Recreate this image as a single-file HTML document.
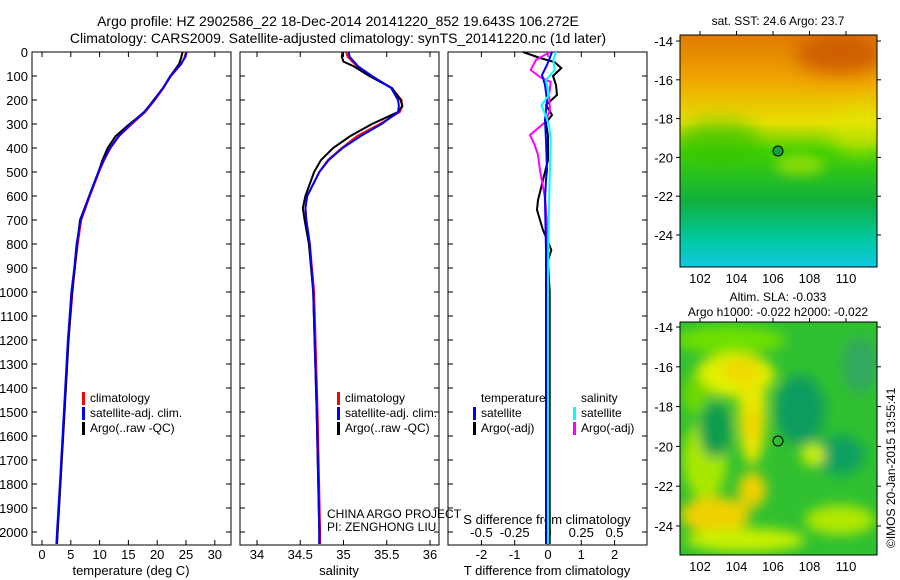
<!DOCTYPE html>
<html><head><meta charset="utf-8"><style>
html,body{margin:0;padding:0;background:#fff}
svg{display:block;font-family:"Liberation Sans",sans-serif}
</style></head><body>
<svg id="chart" width="900" height="580" viewBox="0 0 900 580">
<defs>
<linearGradient id="sstg" x1="0" y1="0" x2="0" y2="1">
<stop offset="0" stop-color="#e07a00"/><stop offset="0.2" stop-color="#f0a800"/><stop offset="0.38" stop-color="#e6e000"/><stop offset="0.5" stop-color="#40d000"/><stop offset="0.72" stop-color="#10b040"/><stop offset="0.88" stop-color="#00c8a0"/><stop offset="1" stop-color="#10c8e0"/>
</linearGradient>
<filter id="blur" x="-50%" y="-50%" width="200%" height="200%"><feGaussianBlur stdDeviation="9"/></filter>
<filter id="blur2" x="-50%" y="-50%" width="200%" height="200%"><feGaussianBlur stdDeviation="6"/></filter>
<clipPath id="cm1"><rect x="680" y="35" width="197" height="232"/></clipPath>
<clipPath id="cm2"><rect x="680" y="322" width="197" height="233"/></clipPath>
</defs>
<text x="338" y="26" font-size="14" text-anchor="middle">Argo profile: HZ 2902586_22 18-Dec-2014 20141220_852 19.643S 106.272E</text>
<text x="338" y="43" font-size="14" text-anchor="middle">Climatology: CARS2009. Satellite-adjusted climatology: synTS_20141220.nc (1d later)</text>
<g id="axes"></g>
<g id="maps">
<g clip-path="url(#cm1)">
<rect x="680" y="35" width="197" height="232" fill="url(#sstg)"/>
<ellipse cx="840" cy="55" rx="45" ry="20" fill="#c04000" opacity="0.6" filter="url(#blur)"/>
<ellipse cx="720" cy="140" rx="40" ry="20" fill="#30c000" opacity="0.6" filter="url(#blur)"/>
<ellipse cx="860" cy="130" rx="30" ry="25" fill="#e0e800" opacity="0.6" filter="url(#blur)"/>
<ellipse cx="800" cy="165" rx="25" ry="10" fill="#c8e800" opacity="0.6" filter="url(#blur2)"/>
</g>
<rect x="680" y="35" width="197" height="232" fill="none" stroke="#000"/>
<circle cx="778" cy="151" r="5" fill="#10a040" stroke="#000"/>
<text x="778" y="25" font-size="12" text-anchor="middle">sat. SST: 24.6  Argo: 23.7</text>
<g clip-path="url(#cm2)">
<rect x="680" y="322" width="197" height="233" fill="#30c030"/>
<g filter="url(#blur2)">
<ellipse cx="730" cy="340" rx="55" ry="14" fill="#70e000"/>
<ellipse cx="735" cy="375" rx="40" ry="22" fill="#e0f000"/>
<ellipse cx="752" cy="410" rx="14" ry="55" fill="#e8e800"/>
<ellipse cx="740" cy="370" rx="18" ry="12" fill="#f0d800"/>
<ellipse cx="752" cy="425" rx="8" ry="15" fill="#f0d000"/>
<ellipse cx="705" cy="460" rx="22" ry="40" fill="#a8e800"/>
<ellipse cx="715" cy="515" rx="35" ry="18" fill="#f0d000"/>
<ellipse cx="752" cy="490" rx="14" ry="18" fill="#f0d000"/>
<ellipse cx="745" cy="540" rx="60" ry="12" fill="#c8f000"/>
<ellipse cx="715" cy="430" rx="16" ry="28" fill="#109c50"/>
<ellipse cx="800" cy="410" rx="25" ry="35" fill="#109c60"/>
<ellipse cx="840" cy="455" rx="25" ry="20" fill="#10a060"/>
<ellipse cx="813" cy="455" rx="12" ry="11" fill="#d0f000"/>
<ellipse cx="840" cy="520" rx="35" ry="15" fill="#b0e800"/>
<ellipse cx="860" cy="365" rx="18" ry="28" fill="#30a860"/>
<ellipse cx="695" cy="395" rx="12" ry="20" fill="#70d800"/>
</g>
</g>
<rect x="680" y="322" width="197" height="233" fill="none" stroke="#000"/>
<circle cx="778" cy="441" r="5" fill="none" stroke="#000"/>
<text x="778" y="301" font-size="12" text-anchor="middle">Altim. SLA: -0.033</text>
<text x="778" y="316" font-size="12" text-anchor="middle">Argo h1000: -0.022 h2000: -0.022</text>
<text transform="translate(895,548) rotate(-90)" font-size="12">©IMOS 20-Jan-2015 13:55:41</text>
</g>
<g id="plots"></g>
</svg>
<script>
const NS="http://www.w3.org/2000/svg";
const depthTicks=[0,100,200,300,400,500,600,700,800,900,1000,1100,1200,1300,1400,1500,1600,1700,1800,1900,2000];
const tempTicks=[0,5,10,15,20,25,30];
const salTicks=[34,34.5,35,35.5,36];
const salTickLabels=["34","34.5","35","35.5","36"];
const tdiffTicks=[-2,-1,0,1,2];
const sdiffTicks=[-0.5,-0.25,0,0.25,0.5];
const sdiffTickLabels=["-0.5","-0.25","0","0.25","0.5"];
const lonTicks=[102,104,106,108,110];
const latTicks=[-14,-16,-18,-20,-22,-24];

const tDepth=[0,20,50,100,150,200,250,300,350,400,450,500,600,700,800,900,1000,1200,1500,1800,2000,2050];
const tArgo=[24.4,24.2,23.8,22.3,21.0,19.4,17.8,15.2,12.8,11.4,10.5,9.8,8.2,6.6,6.1,5.7,5.2,4.6,3.9,3.2,2.7,2.6];
const tClim=[25.0,24.8,24.2,22.4,21.1,19.6,17.9,15.6,13.4,11.9,10.8,9.9,8.3,6.8,6.2,5.7,5.3,4.6,3.9,3.2,2.7,2.6];
const tSat=[25.1,24.9,24.1,22.3,21.0,19.5,17.7,15.4,13.3,11.8,10.7,9.8,8.2,6.7,6.0,5.6,5.1,4.5,3.8,3.1,2.6,2.5];
const sDepth=[0,20,40,60,100,150,200,225,250,300,350,400,450,500,600,650,700,800,1000,1500,2000,2050];
const sArgo=[34.99,34.98,35.0,35.12,35.3,35.56,35.66,35.68,35.63,35.33,35.08,34.88,34.74,34.66,34.56,34.53,34.55,34.6,34.65,34.69,34.72,34.72];
const sClim=[35.03,35.05,35.1,35.16,35.32,35.56,35.67,35.68,35.65,35.42,35.16,34.98,34.82,34.72,34.58,34.56,34.57,34.61,34.66,34.7,34.73,34.73];
const sSat=[35.06,35.07,35.12,35.17,35.33,35.55,35.63,35.64,35.63,35.44,35.2,34.99,34.83,34.72,34.58,34.56,34.57,34.61,34.65,34.69,34.72,34.72];
const dtArgoDepth=[0,25,42,67,100,137,179,221,262,296,350,450,617,658,742,790,825,870,1000,2050];
const dtArgo=[-0.75,-0.24,0.2,0.4,0.15,0.24,0.27,-0.06,0.12,-0.06,0,0,-0.3,-0.33,-0.15,0,0.1,0,0.05,0.05];
const dtSatDepth=[0,54,96,137,200,283,367,492,533,617,825,2050];
const dtSat=[0.12,-0.03,-0.18,-0.09,-0.03,-0.09,-0.06,-0.03,-0.06,-0.09,-0.06,-0.06];
const dsArgoDepth=[0,33,75,104,125,179,242,292,346,387,429,492,554,617,700,1000,2050];
const dsArgo=[0.015,-0.09,-0.13,-0.06,0.02,0.008,0.015,-0.02,-0.135,-0.1,-0.075,-0.06,-0.04,-0.02,-0.01,-0.005,0];
const dsSatDepth=[0,33,75,117,179,221,262,304,367,617,950,2050];
const dsSat=[0.06,0.04,0.05,-0.015,0.008,-0.05,-0.02,0.008,0.02,0.008,0,0];

const Y=d=>52+d*0.24;
const xT=v=>42+v*5.76;
const xS=v=>257+(v-34)*86.5;
const xDT=v=>548+v*33.3;
const xDS=v=>548+v*133;
const lonX=v=>700+(v-102)*18.25;
const latY1=v=>41+(-14-v)*19.4;
const latY2=v=>327+(-14-v)*19.9;

const axes=document.getElementById('axes');
const plots=document.getElementById('plots');
function mk(tag,attrs,parent){const e=document.createElementNS(NS,tag);for(const k in attrs)e.setAttribute(k,attrs[k]);parent.appendChild(e);return e;}
function txt(x,y,s,size,anchor,parent){const e=mk('text',{x:x,y:y,'font-size':size,'text-anchor':anchor},parent);e.textContent=s;return e;}

const panels=[{x0:32,name:'temperature-panel'},{x0:240,name:'salinity-panel'},{x0:448,name:'difference-panel'}];
panels.forEach(p=>{
  const r=mk('rect',{x:p.x0,y:52,width:199,height:493,fill:'none',stroke:'#000'},axes);
  
  
  depthTicks.forEach(d=>{
    mk('line',{x1:p.x0,x2:p.x0+5,y1:Y(d),y2:Y(d),stroke:'#000'},axes);
    mk('line',{x1:p.x0+199,x2:p.x0+194,y1:Y(d),y2:Y(d),stroke:'#000'},axes);
  });
});
depthTicks.forEach(d=>{
  const t=txt(28,Y(d)+5,String(d),13,'end',axes);
  
  
});
function xticks(ticks,labels,fx,ly){
  ticks.forEach((v,i)=>{
    mk('line',{x1:fx(v),x2:fx(v),y1:545,y2:540,stroke:'#000'},axes);
    mk('line',{x1:fx(v),x2:fx(v),y1:52,y2:57,stroke:'#000'},axes);
    const t=txt(fx(v),ly,labels[i],13,'middle',axes);
    
    
  });
}
xticks(tempTicks,tempTicks.map(String),xT,559);
xticks(salTicks,salTickLabels,xS,559);
xticks(tdiffTicks,tdiffTicks.map(String),xDT,559);
sdiffTicks.forEach((v,i)=>{
  const t=txt(xDS(v),537,sdiffTickLabels[i],13,'middle',axes);
  
  
});
let t;
t=txt(131,575,'temperature (deg C)',13,'middle',axes);


t=txt(339,575,'salinity',13,'middle',axes);


t=txt(547,575,'T difference from climatology',13,'middle',axes);


t=txt(547,524,'S difference from climatology',13,'middle',axes);


t=txt(327,518,'CHINA ARGO PROJECT',12,'start',axes);


t=txt(327,531,'PI: ZENGHONG LIU',12,'start',axes);



function line(ds,vs,fx,color,w,name){
  const pts=ds.map((d,i)=>fx(vs[i]).toFixed(1)+','+Y(d).toFixed(1)).join(' ');
  const e=mk('polyline',{points:pts,fill:'none',stroke:color,'stroke-width':w},plots);
  
  
}
line(tDepth,tClim,xT,'#f00',2,'temp-climatology-line');
line(tDepth,tArgo,xT,'#000',2,'temp-argo-line');
line(tDepth,tSat,xT,'#00f',2,'temp-satellite-line');
line(sDepth,sClim,xS,'#f00',2,'sal-climatology-line');
line(sDepth,sArgo,xS,'#000',2,'sal-argo-line');
line(sDepth,sSat,xS,'#00f',2,'sal-satellite-line');
line(dtArgoDepth,dtArgo,xDT,'#000',2,'tdiff-argo-line');
line(dsArgoDepth,dsArgo,xDS,'#f0f',2,'sdiff-argo-line');
line(dtSatDepth,dtSat,xDT,'#00f',2,'tdiff-satellite-line');
line(dsSatDepth,dsSat,xDS,'#0ff',2,'sdiff-satellite-line');

function legend(x,y,items,name){
  items.forEach((it,i)=>{
    if(it[1]) mk('rect',{x:x,y:y+i*15-10,width:3,height:13,fill:it[1]},axes);
    const e=txt(x+8,y+i*15,it[0],12,'start',axes);
    
    
  });
}
legend(82,402,[['climatology','#f00'],['satellite-adj. clim.','#00f'],['Argo(..raw -QC)','#000']],'temp-legend');
legend(337,402,[['climatology','#f00'],['satellite-adj. clim.','#00f'],['Argo(..raw -QC)','#000']],'sal-legend');
legend(473,402,[['temperature',null],['satellite','#00f'],['Argo(-adj)','#000']],'tdiff-legend');
legend(573,402,[['salinity',null],['satellite','#0ff'],['Argo(-adj)','#f0f']],'sdiff-legend');

function mapAxes(top,bot,fy){
  lonTicks.forEach(v=>{
    mk('line',{x1:lonX(v),x2:lonX(v),y1:bot,y2:bot-4,stroke:'#000'},axes);
    mk('line',{x1:lonX(v),x2:lonX(v),y1:top,y2:top-4,stroke:'#000'},axes);
    const e=txt(lonX(v),bot+16,String(v),13,'middle',axes);
    
    
  });
  latTicks.forEach(v=>{
    mk('line',{x1:680,x2:676,y1:fy(v),y2:fy(v),stroke:'#000'},axes);
    mk('line',{x1:877,x2:881,y1:fy(v),y2:fy(v),stroke:'#000'},axes);
    const e=txt(673,fy(v)+5,String(v),13,'end',axes);
    
    
  });
}
mapAxes(35,267,latY1);
mapAxes(322,555,latY2);
</script>
</body></html>
